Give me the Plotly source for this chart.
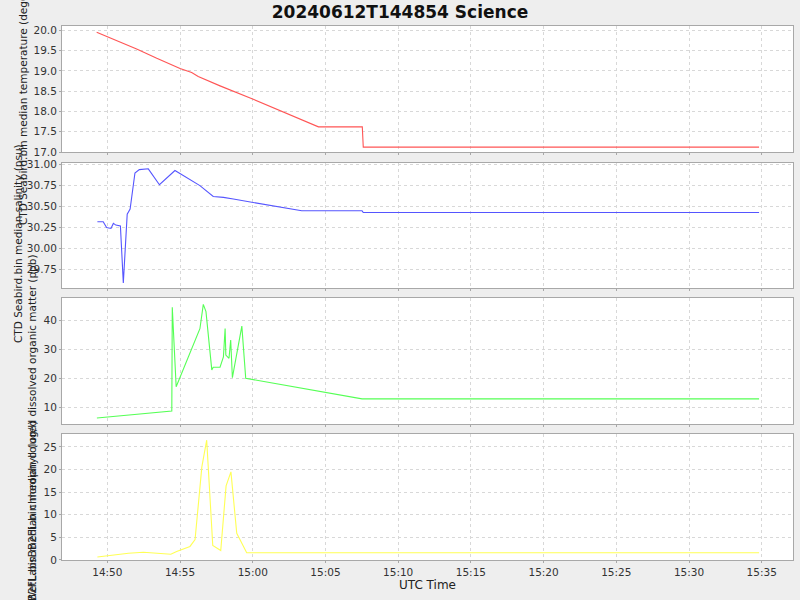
import plotly.graph_objects as go
from plotly.subplots import make_subplots

DAY = "2024-06-12 "

temp_time = ["14:49:16", "14:50:39", "14:52:01", "14:53:24", "14:55:00", "14:55:48", "14:56:15",
             "14:57:45", "15:00:02", "15:04:31", "15:07:32", "15:07:36", "15:34:49"]
temp_vals = [19.95, 19.74, 19.54, 19.31, 19.06, 18.96, 18.86, 18.63, 18.30, 17.62, 17.62, 17.12, 17.12]

sal_time = ["14:49:19", "14:49:43", "14:49:57", "14:50:15", "14:50:25", "14:50:35", "14:50:54",
            "14:51:06", "14:51:22", "14:51:34", "14:51:54", "14:52:12", "14:52:49", "14:53:35",
            "14:54:39", "14:55:41", "14:56:22", "14:57:17", "14:57:59", "14:58:40", "15:00:02",
            "15:03:22", "15:07:31", "15:07:36", "15:34:49"]
sal_vals = [30.32, 30.32, 30.25, 30.24, 30.30, 30.28, 30.27, 29.59, 30.41, 30.47, 30.90, 30.94,
            30.95, 30.76, 30.93, 30.82, 30.75, 30.62, 30.61, 30.59, 30.55, 30.45, 30.45, 30.43, 30.43]

cdom_time = ["14:49:17", "14:52:00", "14:54:26", "14:54:28", "14:54:44", "14:56:22", "14:56:36",
             "14:56:47", "14:57:11", "14:57:17", "14:57:45", "14:57:59", "14:58:06", "14:58:09",
             "14:58:22", "14:58:29", "14:58:36", "14:59:15", "14:59:31", "15:07:31", "15:34:49"]
cdom_vals = [6.3, 7.6, 8.7, 44.5, 17.1, 37.1, 45.5, 43.0, 22.9, 23.8, 23.8, 27.4, 37.2, 28.0,
             26.9, 33.2, 20.2, 38.0, 20.0, 12.9, 12.9]

chl_time = ["14:49:19", "14:49:58", "14:50:39", "14:51:27", "14:52:29", "14:53:24", "14:54:22",
            "14:54:46", "14:55:41", "14:56:02", "14:56:30", "14:56:50", "14:57:15", "14:57:48",
            "14:58:10", "14:58:30", "14:58:54", "14:59:35", "15:34:49"]
chl_vals = [0.66, 0.9, 1.04, 1.5, 1.7, 1.55, 1.26, 1.9, 3.0, 4.5, 20.6, 26.5, 3.2, 2.1, 16.4,
            19.5, 5.9, 1.6, 1.6]

y_labels = ["CTD Seabird.bin median temperature (degC)",
            "CTD Seabird.bin median salinity (psu)",
            "WetLabsBB2FL.bin median colored dissolved organic matter (ppb)",
            "WetLabsBB2FL.bin median chlorophyll (ug/l)"]
title_text = "20240612T144854 Science"
x_title = "UTC Time"

series = [(temp_time, temp_vals, "#ff5555"),
          (sal_time, sal_vals, "#5555ff"),
          (cdom_time, cdom_vals, "#55ff55"),
          (chl_time, chl_vals, "#ffff55")]

fig = make_subplots(rows=4, cols=1, shared_xaxes=True, vertical_spacing=0.02)
for i, (t, v, c) in enumerate(series):
    fig.add_trace(go.Scatter(x=[DAY + s for s in t], y=v, mode="lines",
                             line=dict(color=c, width=1.1), showlegend=False,
                             hoverinfo="skip"), row=i + 1, col=1)

domains = [[0.764, 1.0], [0.5094, 0.7434], [0.2547, 0.4906], [0.0, 0.236]]
yranges = [[17.0, 20.105], [29.531, 31.019], [4.24, 47.69], [0.0, 27.88]]
ydtick = [0.5, 0.25, 10, 5]
ytick0 = [17.0, 29.75, 10, 0]
yfmt = [".1f", ".2f", "d", "d"]

tickfont = dict(family="DejaVu Sans", size=10.5, color="#333333")
grid = dict(showgrid=True, gridcolor="#d8d8d8", griddash="3px,3px", gridwidth=1,
            showline=True, linecolor="#a8a8a8", linewidth=1, mirror=True,
            ticks="outside", ticklen=2, tickcolor="#a8a8a8", zeroline=False,
            tickfont=tickfont)

for i in range(4):
    ya = "yaxis" if i == 0 else f"yaxis{i+1}"
    xa = "xaxis" if i == 0 else f"xaxis{i+1}"
    fig.layout[ya].update(domain=domains[i], range=yranges[i], tick0=ytick0[i],
                          dtick=ydtick[i], tickformat=yfmt[i], **grid)
    fig.layout[xa].update(range=[DAY + "14:46:53", DAY + "15:37:09"],
                          tick0=DAY + "14:50:00", dtick=300000, tickformat="%H:%M",
                          showticklabels=(i == 3), **grid)

annots = []
label_pos = [(23, 108), (18, 244), (32, 428), (32, 537)]
for txt, (px, py) in zip(y_labels, label_pos):
    annots.append(dict(text=txt, textangle=-90, xref="paper", yref="paper",
                       x=0, y=(560 - py) / 534, xshift=px - 62, showarrow=False,
                       xanchor="center", yanchor="middle",
                       font=dict(family="DejaVu Sans", size=10.5, color="#222222")))
annots.append(dict(text=x_title, xref="paper", yref="paper", x=(427.5 - 62) / 731,
                   y=(560 - 585) / 534, showarrow=False, xanchor="center",
                   yanchor="middle", font=dict(family="DejaVu Sans", size=12, color="#222222")))

fig.update_layout(
    width=800, height=600,
    margin=dict(l=62, r=7, t=26, b=40),
    paper_bgcolor="#eeeeee", plot_bgcolor="#ffffff",
    title=dict(text="<b>" + title_text + "</b>", x=0.5, xanchor="center", y=0.98,
               yanchor="middle", font=dict(family="DejaVu Sans", size=17, color="#111111")),
    annotations=annots,
)

fig.write_html("out.html", config={"displayModeBar": False},
               post_script="document.body.style.margin='0';document.body.style.background='#eeeeee';")
